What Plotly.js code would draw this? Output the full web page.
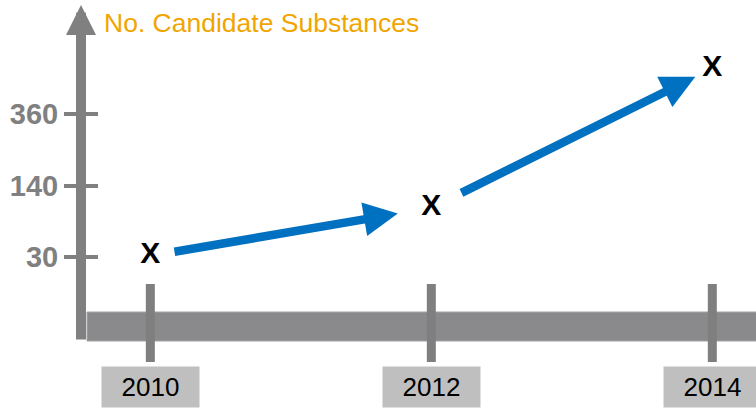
<!DOCTYPE html>
<html>
<head>
<meta charset="utf-8">
<script src="https://cdn.plot.ly/plotly-3.0.1.min.js"></script>
<style>html,body{margin:0;padding:0;background:#fff;}#chart{width:756px;height:412px;}</style>
</head>
<body>
<div id="chart"></div>
<script>
// ---- data ----
const years = [2010, 2012, 2014];
const yearLabels = ['2010', '2012', '2014'];
const tickLevels = [1, 2, 3];
const tickLabels = ['30', '140', '360'];
const markLevels = [1.02, 1.69, 3.64];
const markText = ['X', 'X', 'X'];
const yTitle = 'No. Candidate Substances';

// ---- styles ----
const FONT = 'Liberation Sans, Arial, sans-serif';
const W = 756, H = 412;
const py = px => 1 - px / H;   // page pixel -> paper fraction
const pxX = px => px / W;
const startOff = [23, 32];
const endOff = [34, 19];

const shapes = [];
// thick horizontal time bar
shapes.push({type:'rect', xref:'paper', yref:'paper', x0:pxX(87), x1:1.01, y0:py(341), y1:py(312),
  fillcolor:'#8a8a8c', line:{color:'#a3a3a5', width:1}, layer:'above'});
// year tick bars
years.forEach(yr => shapes.push({type:'line', xref:'x', yref:'paper', x0:yr, x1:yr, y0:py(362), y1:py(284),
  line:{color:'#7f7f7f', width:9}, layer:'above'}));

const annotations = [];
// vertical axis arrow
annotations.push({xref:'paper', yref:'paper', x:pxX(81), y:py(5), axref:'pixel', ayref:'pixel', ax:0, ay:336,
  text:'', showarrow:true, arrowhead:2, arrowsize:0.6, arrowwidth:10, arrowcolor:'#808080'});
// trend arrows between marks
for (let i = 0; i < years.length - 1; i++) {
  annotations.push({xref:'x', yref:'y', axref:'x', ayref:'y',
    x:years[i+1], y:markLevels[i+1], ax:years[i], ay:markLevels[i],
    text:'', showarrow:true, arrowhead:2, arrowsize:0.8, arrowwidth:8.5, arrowcolor:'#0070C0',
    standoff:endOff[i], startstandoff:startOff[i]});
}
// year label boxes
years.forEach((yr, i) => annotations.push({xref:'x', yref:'paper', x:yr, y:py(387), yanchor:'middle', xanchor:'center',
  text:yearLabels[i], showarrow:false, bgcolor:'#bfbfbf', width:95, height:38, borderpad:1,
  font:{family:FONT, size:26, color:'#000'}}));

const trace = {
  type:'scatter', mode:'text', x:years, y:markLevels, text:markText,
  textposition:'middle center', cliponaxis:false, hoverinfo:'skip',
  textfont:{family:FONT, size:30, color:'#000', weight:'bold'}
};

const layout = {
  width:W, height:H, margin:{l:0, r:0, t:0, b:0, pad:0},
  paper_bgcolor:'#fff', plot_bgcolor:'#fff', showlegend:false, hovermode:false,
  title:{text:yTitle, x:pxX(104), xanchor:'left', xref:'paper', y:py(23), yanchor:'middle', yref:'container',
    font:{family:FONT, size:26.5, color:'#F0A500'}},
  xaxis:{range:[2008.930, 2014.311], visible:false, fixedrange:true},
  yaxis:{range:[-1.161, 4.594], anchor:'free', position:pxX(98), side:'left',
    showgrid:false, zeroline:false, showline:false,
    ticks:'outside', ticklen:34, tickwidth:4, tickcolor:'#808080',
    tickvals:tickLevels, ticktext:tickLabels,
    tickfont:{family:FONT, size:29, color:'#808080', weight:'bold'}, fixedrange:true},
  shapes:shapes, annotations:annotations
};

Plotly.newPlot('chart', [trace], layout, {staticPlot:true, displayModeBar:false});
</script>
</body>
</html>
